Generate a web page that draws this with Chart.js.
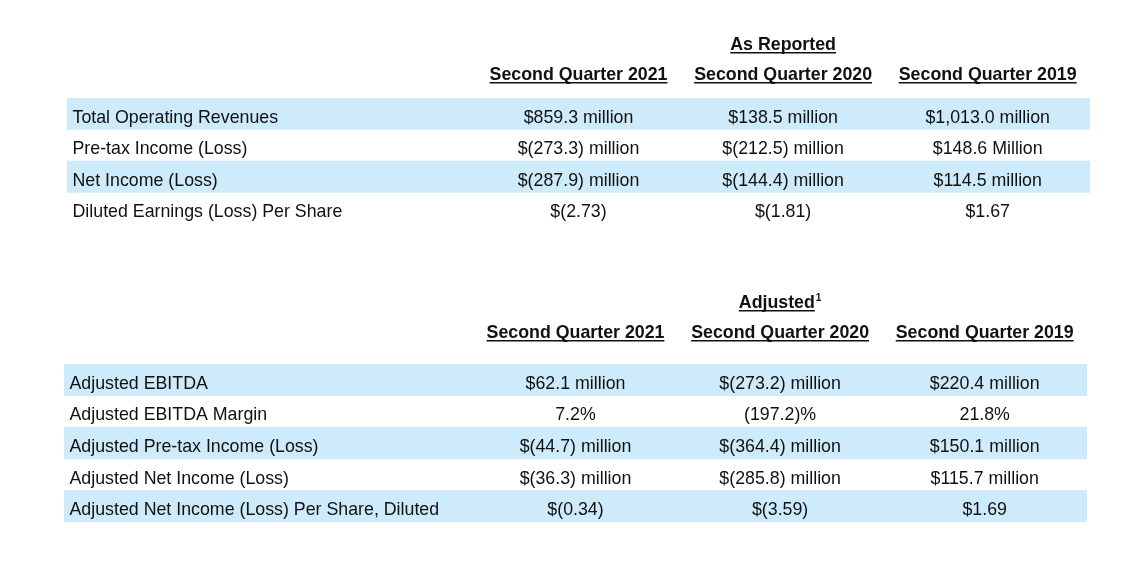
<!DOCTYPE html>
<html>
<head>
<meta charset="utf-8">
<script src="https://cdn.jsdelivr.net/npm/chart.js@4/dist/chart.umd.min.js"></script>
<style>
  html, body { margin: 0; padding: 0; background: #fff; }
  body { width: 1127px; height: 571px; position: relative; overflow: hidden; }
  .box { position: absolute; left: 0; width: 1127px; }
  #topBox { top: 0; height: 240px; }
  #bottomBox { top: 250px; height: 300px; }
</style>
</head>
<body>
<div class="box" id="topBox"><canvas id="topChart"></canvas></div>
<div class="box" id="bottomBox"><canvas id="bottomChart"></canvas></div>
<script>
// Column headers, shared by both tables
var quarters = ['Second Quarter 2021', 'Second Quarter 2020', 'Second Quarter 2019'];

// "As Reported" table
var reportedTitle = 'As Reported';
var reportedRows = ['Total Operating Revenues', 'Pre-tax Income (Loss)', 'Net Income (Loss)',
                    'Diluted Earnings (Loss) Per Share'];
var reportedQ2021 = ['$859.3 million', '$(273.3) million', '$(287.9) million', '$(2.73)'];
var reportedQ2020 = ['$138.5 million', '$(212.5) million', '$(144.4) million', '$(1.81)'];
var reportedQ2019 = ['$1,013.0 million', '$148.6 Million', '$114.5 million', '$1.67'];
var reportedShaded = [true, false, true, false];

// "Adjusted" table
var adjustedTitle = 'Adjusted';
var adjustedNote = '1';
var adjustedRows = ['Adjusted EBITDA', 'Adjusted EBITDA Margin', 'Adjusted Pre-tax Income (Loss)',
                    'Adjusted Net Income (Loss)', 'Adjusted Net Income (Loss) Per Share, Diluted'];
var adjustedQ2021 = ['$62.1 million', '7.2%', '$(44.7) million', '$(36.3) million', '$(0.34)'];
var adjustedQ2020 = ['$(273.2) million', '(197.2)%', '$(364.4) million', '$(285.8) million', '$(3.59)'];
var adjustedQ2019 = ['$220.4 million', '21.8%', '$150.1 million', '$115.7 million', '$1.69'];
var adjustedShaded = [true, false, true, false, true];

// Look
var bandColor = '#cdebfb';
var textColor = '#111111';
var fontFamily = '"Liberation Sans", Arial, sans-serif';
var fontSize = 17.8;

// x scale: label column spans 0..2, each quarter column is one unit wide
var xMax = 5;

// Draws the headers and the cell texts on top of the row bands
var tableText = {
    id: 'tableText',
    afterDatasetsDraw: function(chart, args, opts) {
        var ctx = chart.ctx;
        var xs = chart.scales.x;
        var ys = chart.scales.y;
        var area = chart.chartArea;
        ctx.save();
        ctx.fillStyle = textColor;
        ctx.textBaseline = 'alphabetic';

        // column headers, bold and underlined
        ctx.font = 'bold ' + fontSize + 'px ' + fontFamily;
        ctx.textAlign = 'center';
        var headY = area.top - opts.headerGap;
        quarters.forEach(function(q, j) {
            var cx = xs.getPixelForValue(2.5 + j);
            ctx.fillText(q, cx, headY);
            var w = ctx.measureText(q).width;
            ctx.fillRect(cx - w / 2, headY + 2, w, 1.5);
        });

        // group title above the middle column
        var titleY = headY - 30;
        var tw = ctx.measureText(opts.title).width;
        var sw = 0;
        if (opts.note) {
            ctx.font = 'bold 10px ' + fontFamily;
            sw = ctx.measureText(opts.note).width + 1;
        }
        var tx = xs.getPixelForValue(3.5) - (tw + sw) / 2;
        ctx.font = 'bold ' + fontSize + 'px ' + fontFamily;
        ctx.textAlign = 'left';
        ctx.fillText(opts.title, tx, titleY);
        ctx.fillRect(tx, titleY + 2, tw, 1.5);
        if (opts.note) {
            ctx.font = 'bold 10px ' + fontFamily;
            ctx.fillText(opts.note, tx + tw + 1, titleY - 7);
        }

        // row labels and values
        ctx.font = fontSize + 'px ' + fontFamily;
        opts.rows.forEach(function(label, i) {
            var y = ys.getPixelForValue(i) + 9;
            ctx.textAlign = 'left';
            ctx.fillText(label, area.left + 5.5, y);
            ctx.textAlign = 'center';
            opts.columns.forEach(function(col, j) {
                ctx.fillText(col[i], xs.getPixelForValue(2.5 + j), y);
            });
        });
        ctx.restore();
    }
};

function makeTable(canvasId, rows, shaded, columns, title, note, padding, headerGap) {
    var bands = shaded.map(function(s) { return s ? xMax : null; });
    return new Chart(document.getElementById(canvasId), {
        type: 'bar',
        data: {
            labels: rows,
            datasets: [{
                data: bands,
                backgroundColor: bandColor,
                borderWidth: 0,
                barPercentage: 1,
                categoryPercentage: 1
            }]
        },
        options: {
            indexAxis: 'y',
            responsive: true,
            maintainAspectRatio: false,
            animation: false,
            layout: { padding: padding },
            scales: {
                x: { type: 'linear', min: 0, max: xMax, display: false },
                y: { display: false }
            },
            plugins: {
                legend: { display: false },
                tooltip: { enabled: false },
                tableText: {
                    rows: rows,
                    columns: columns,
                    title: title,
                    note: note,
                    headerGap: headerGap
                }
            }
        },
        plugins: [tableText]
    });
}

makeTable('topChart', reportedRows, reportedShaded,
          [reportedQ2021, reportedQ2020, reportedQ2019],
          reportedTitle, null,
          { top: 98, left: 67, right: 37, bottom: 16 }, 18);

makeTable('bottomChart', adjustedRows, adjustedShaded,
          [adjustedQ2021, adjustedQ2020, adjustedQ2019],
          adjustedTitle, adjustedNote,
          { top: 114, left: 64, right: 40, bottom: 28 }, 26);
</script>
</body>
</html>
